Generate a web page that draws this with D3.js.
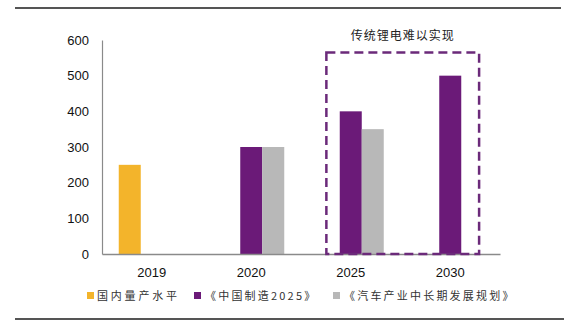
<!DOCTYPE html>
<html><head><meta charset="utf-8">
<script src="https://cdn.jsdelivr.net/npm/d3@7"></script>
<style>
html,body{margin:0;padding:0;background:#fff;}
svg{display:block;}
</style></head>
<body>
<svg id="chart" width="567" height="327"></svg>
<script>
const categories = ["2019", "2020", "2025", "2030"];
const seriesNames = ["国内量产水平", "《中国制造2025》", "《汽车产业中长期发展规划》"];
const domestic = [250, null, null, null];
const madeInChina = [null, 300, 400, 500];
const autoPlan = [null, 300, 350, null];
const yTicks = [0, 100, 200, 300, 400, 500, 600];
const annotationText = "传统锂电难以实现";
const colors = ["#f3b42b", "#6b1a78", "#b8b8b8"];

const seriesValues = [domestic, madeInChina, autoPlan];
const svg = d3.select("#chart");

// frame lines
svg.append("line").attr("x1", 15).attr("x2", 561).attr("y1", 8).attr("y2", 8)
  .attr("stroke", "#555").attr("stroke-width", 2);
svg.append("line").attr("x1", 15).attr("x2", 564).attr("y1", 319).attr("y2", 319)
  .attr("stroke", "#555").attr("stroke-width", 2);

const x = d3.scaleBand().domain(categories).range([102, 500]).paddingInner(0).paddingOuter(0);
const y = d3.scaleLinear().domain([0, 600]).range([254, 40]);
const sub = d3.scaleBand().domain(d3.range(3)).range([-33, 33]);

// bars
seriesValues.forEach((vals, si) => {
  svg.append("g").selectAll("rect")
    .data(categories.map((c, i) => ({c, v: vals[i]})).filter(d => d.v != null))
    .join("rect")
    .attr("x", d => x(d.c) + x.bandwidth() / 2 + sub(si))
    .attr("width", sub.bandwidth())
    .attr("y", d => y(d.v))
    .attr("height", d => y(0) - y(d.v))
    .attr("fill", colors[si]);
});

// y axis
const yAxis = svg.append("g").attr("transform", "translate(102,0)")
  .call(d3.axisLeft(y).tickValues(yTicks).tickSize(0).tickSizeOuter(0).tickPadding(13));
yAxis.select(".domain").attr("stroke", "#8a8a8a").attr("stroke-width", 1.2);
yAxis.selectAll("text").attr("font-family", "Liberation Sans, Arial, sans-serif")
  .attr("font-size", 13).attr("fill", "#111");

// x axis
const xAxis = svg.append("g").attr("transform", "translate(0,254)")
  .call(d3.axisBottom(x).tickSize(0).tickSizeOuter(0).tickPadding(14));
xAxis.select(".domain").attr("stroke", "#8a8a8a").attr("stroke-width", 1.5);
xAxis.selectAll("text").attr("font-family", "Liberation Sans, Arial, sans-serif")
  .attr("font-size", 13).attr("fill", "#111");

// dashed annotation box
const boxX0 = x("2025") + x.bandwidth() * 0.255;
const boxX1 = x("2030") + x.bandwidth() * 0.79;
const boxY0 = y(565);
svg.append("rect").attr("x", boxX0).attr("y", boxY0)
  .attr("width", boxX1 - boxX0).attr("height", y(0) - boxY0)
  .attr("fill", "none").attr("stroke", "#6b2a7a").attr("stroke-width", 2.5)
  .attr("stroke-dasharray", "9,5");
svg.append("text").attr("x", (boxX0 + boxX1) / 2).attr("y", 40)
  .attr("text-anchor", "middle").attr("font-family", "Noto Sans CJK SC")
  .attr("font-size", 12).attr("letter-spacing", 1).attr("fill", "#222")
  .text(annotationText);

// legend
const legendX = [87, 194, 333];
const lg = svg.append("g");
seriesNames.forEach((name, i) => {
  lg.append("rect").attr("x", legendX[i]).attr("y", 292).attr("width", 7).attr("height", 7)
    .attr("fill", colors[i]);
  lg.append("text").attr("x", legendX[i] + 10 + (i === 0 ? 0 : 1)).attr("y", 299.5)
    .attr("font-family", "Noto Sans CJK SC").attr("font-size", 11)
    .attr("letter-spacing", i === 0 ? 2.8 : 2.2).attr("fill", "#333")
    .text(name);
});
</script>
</body></html>
